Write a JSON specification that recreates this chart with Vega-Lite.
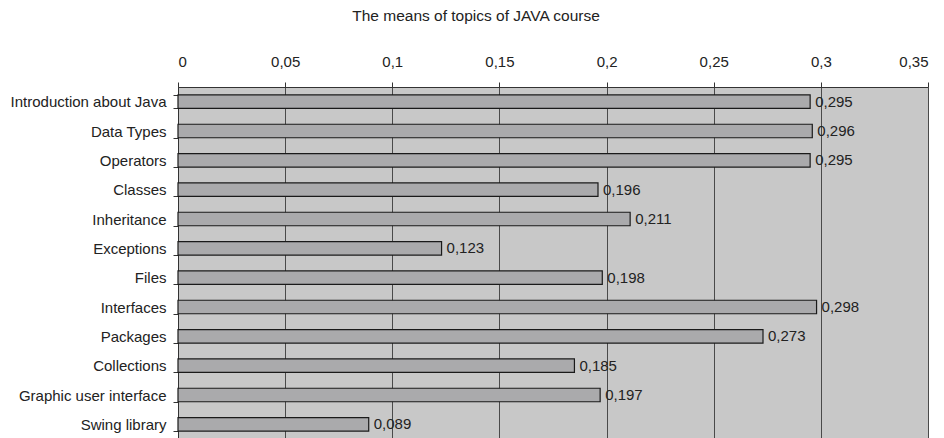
{
  "$schema": "https://vega.github.io/schema/vega-lite/v6.json",
  "autosize": {"type": "none"},
  "width": 750,
  "height": 352,
  "padding": {"left": 178, "top": 87, "right": 16, "bottom": 0},
  "background": "white",
  "config": {
    "locale": {"number": {"decimal": ",", "thousands": ".", "grouping": [3], "currency": ["", " €"]}},
    "view": {"stroke": null, "fill": "#c8c8c8"},
    "font": "Liberation Sans"
  },
  "title": {
    "text": "The means of topics of JAVA course",
    "font": "Liberation Sans",
    "fontSize": 15.5,
    "fontWeight": "normal",
    "color": "#222222",
    "anchor": "middle",
    "dx": -77,
    "offset": 30
  },
  "data": {
    "values": [
      {"topic": "Introduction about Java", "mean": 0.295},
      {"topic": "Data Types", "mean": 0.296},
      {"topic": "Operators", "mean": 0.295},
      {"topic": "Classes", "mean": 0.196},
      {"topic": "Inheritance", "mean": 0.211},
      {"topic": "Exceptions", "mean": 0.123},
      {"topic": "Files", "mean": 0.198},
      {"topic": "Interfaces", "mean": 0.298},
      {"topic": "Packages", "mean": 0.273},
      {"topic": "Collections", "mean": 0.185},
      {"topic": "Graphic user interface", "mean": 0.197},
      {"topic": "Swing library", "mean": 0.089}
    ]
  },
  "encoding": {
    "y": {
      "field": "topic",
      "type": "nominal",
      "sort": null,
      "scale": {"paddingInner": 0.54, "paddingOuter": 0.27},
      "axis": {
        "title": null,
        "orient": "left",
        "tickBand": "extent",
        "tickSize": 5,
        "tickColor": "#333333",
        "domainColor": "#333333",
        "labelFontSize": 15,
        "labelColor": "#222222",
        "labelPadding": 7,
        "labelFont": "Liberation Sans"
      }
    },
    "x": {
      "field": "mean",
      "type": "quantitative",
      "scale": {"domain": [0, 0.35], "nice": false},
      "axis": {
        "title": null,
        "orient": "top",
        "values": [0, 0.05, 0.1, 0.15, 0.2, 0.25, 0.3, 0.35],
        "format": "~g",
        "grid": true,
        "gridColor": "#4a4a4a",
        "gridWidth": 1,
        "tickSize": 5,
        "tickColor": "#333333",
        "domainColor": "#333333",
        "labelFontSize": 15,
        "labelColor": "#222222",
        "labelPadding": 13,
        "labelFont": "Liberation Sans"
      }
    }
  },
  "layer": [
    {
      "mark": {"type": "bar", "fill": "#aaaaac", "stroke": "#1a1a1a", "strokeWidth": 1.2}
    },
    {
      "mark": {"type": "text", "align": "left", "baseline": "middle", "dx": 5, "fontSize": 15, "color": "#222222", "font": "Liberation Sans"},
      "encoding": {"text": {"field": "mean", "type": "quantitative", "format": ".3f"}}
    }
  ]
}
